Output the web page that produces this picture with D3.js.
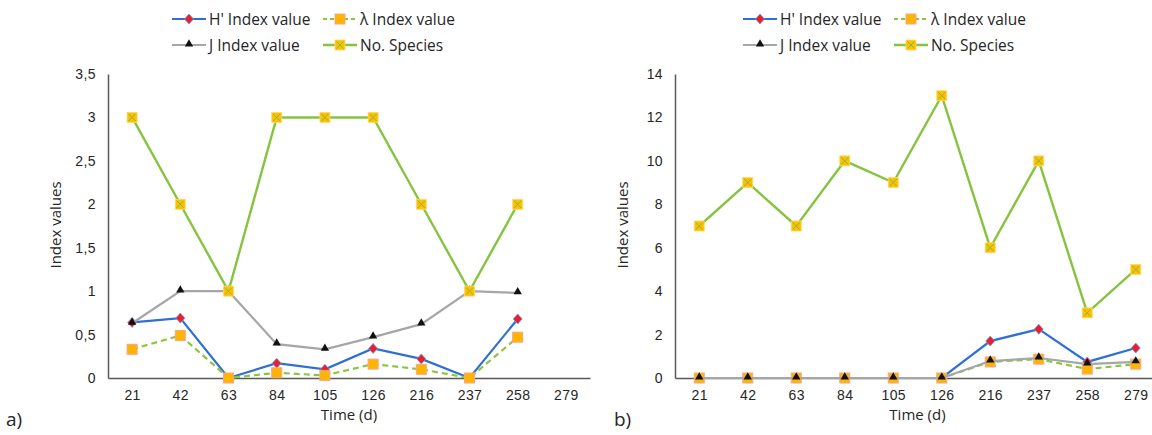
<!DOCTYPE html>
<html>
<head>
<meta charset="utf-8">
<script src="https://cdn.jsdelivr.net/npm/d3@7"></script>
<style>
  body { margin: 0; background: #fff; }
  svg { display: block; font-family: "Open Sans", sans-serif; }
  .tick text { font-size: 14px; fill: #262626; letter-spacing: 0.4px; }
  .domain { stroke: #595959; stroke-width: 1.5px; }
</style>
</head>
<body>
<svg id="chart" width="1152" height="435"></svg>
<script>
// Time points (days)
var daysA = ["21", "42", "63", "84", "105", "126", "216", "237", "258", "279"];
var daysB = ["21", "42", "63", "84", "105", "126", "216", "237", "258", "279"];

// panel a) - nothing recorded at 279
var hA = [0.64, 0.69, 0, 0.17, 0.10, 0.34, 0.22, 0, 0.68, null];
var lambdaA = [0.33, 0.49, 0, 0.06, 0.03, 0.16, 0.10, 0, 0.47, null];
var jA = [0.63, 1.0, 1.0, 0.39, 0.33, 0.47, 0.62, 1.0, 0.98, null];
var speciesA = [3, 2, 1, 3, 3, 3, 2, 1, 2, null];
var yTicksA = [0, 0.5, 1, 1.5, 2, 2.5, 3, 3.5];

// panel b)
var hB = [0, 0, 0, 0, 0, 0, 1.70, 2.25, 0.74, 1.38];
var lambdaB = [0, 0, 0, 0, 0, 0, 0.74, 0.87, 0.41, 0.64];
var jB = [0, 0, 0, 0, 0, 0, 0.78, 0.92, 0.64, 0.74];
var speciesB = [7, 9, 7, 10, 9, 13, 6, 10, 3, 5];
var yTicksB = [0, 2, 4, 6, 8, 10, 12, 14];

var seriesNames = ["H' Index value", "λ Index value", "J Index value", "No. Species"];

var svg = d3.select("#chart");
var fmt = function (v) { return String(v).replace(".", ","); };

function marker(g, kind, x, y) {
  if (kind === 0) {
    g.append("path").attr("d", "M" + x + "," + (y - 5) + "L" + (x + 4.5) + "," + y +
      "L" + x + "," + (y + 5) + "L" + (x - 4.5) + "," + y + "Z")
      .attr("fill", "#e8202a").attr("stroke", "#6d9be6").attr("stroke-width", 0.8);
  } else if (kind === 1) {
    g.append("rect").attr("x", x - 5).attr("y", y - 5).attr("width", 10).attr("height", 10)
      .attr("fill", "#ffb400").attr("stroke", "#f7a58a").attr("stroke-width", 1);
  } else if (kind === 2) {
    g.append("path").attr("d", d3.symbol(d3.symbolTriangle, 30)())
      .attr("transform", "translate(" + x + "," + (y - 1) + ")")
      .attr("fill", "#111");
  } else {
    g.append("rect").attr("x", x - 5).attr("y", y - 5).attr("width", 10).attr("height", 10)
      .attr("fill", "#ffc000").attr("stroke", "#ffd966").attr("stroke-width", 0.8);
    g.append("path").attr("d", "M" + (x - 3.5) + "," + (y - 3.5) + "L" + (x + 3.5) + "," + (y + 3.5) +
      "M" + (x + 3.5) + "," + (y - 3.5) + "L" + (x - 3.5) + "," + (y + 3.5))
      .attr("stroke", "#7dbb42").attr("stroke-width", 1);
  }
}

var lineStyles = [
  { color: "#2f6fd3", dash: null, width: 2.2 },
  { color: "#8cc63f", dash: "6,4", width: 2.2 },
  { color: "#a6a6a6", dash: null, width: 2.2 },
  { color: "#86c440", dash: null, width: 2.4 }
];

function panel(opts) {
  var x = d3.scalePoint().domain(opts.days).range([opts.x0, opts.x1]).padding(0.5);
  var y = d3.scaleLinear().domain([0, opts.yMax]).range([378, 74]);
  var g = svg.append("g");

  g.append("g").attr("transform", "translate(" + opts.x0 + ",0)")
    .call(d3.axisLeft(y).tickValues(opts.yTicks).tickSize(0).tickPadding(12).tickFormat(fmt));
  g.append("g").attr("transform", "translate(0,378)")
    .call(d3.axisBottom(x).tickSize(0).tickPadding(12));

  g.append("text").attr("x", (opts.x0 + opts.x1) / 2).attr("y", 420)
    .attr("text-anchor", "middle").attr("font-size", 15).attr("fill", "#262626").text("Time (d)");
  g.append("text").attr("transform", "translate(" + (opts.x0 - 47) + ",225) rotate(-90)")
    .attr("text-anchor", "middle").attr("font-size", 15).attr("fill", "#262626").text("Index values");
  g.append("text").attr("x", opts.labelX).attr("y", 426)
    .attr("font-size", 19).attr("fill", "#262626").text(opts.label);

  opts.series.forEach(function (vals, k) {
    var st = lineStyles[k];
    var line = d3.line()
      .defined(function (d) { return d != null; })
      .x(function (d, i) { return x(opts.days[i]); })
      .y(function (d) { return y(d); });
    g.append("path").datum(vals).attr("d", line)
      .attr("fill", "none").attr("stroke", st.color).attr("stroke-width", st.width)
      .attr("stroke-dasharray", st.dash);
    var mg = g.append("g");
    vals.forEach(function (v, i) {
      if (v != null) marker(mg, k, x(opts.days[i]), y(v));
    });
  });

  // legend
  var lg = g.append("g");
  var cols = [opts.legX, opts.legX + 151];
  var rows = [19, 45];
  seriesNames.forEach(function (name, k) {
    var lx = cols[k % 2], ly = rows[Math.floor(k / 2)];
    var st = lineStyles[k];
    lg.append("line").attr("x1", lx).attr("x2", lx + 34).attr("y1", ly).attr("y2", ly)
      .attr("stroke", st.color).attr("stroke-width", st.width).attr("stroke-dasharray", st.dash ? "4,3" : null);
    marker(lg, k, lx + 17, ly);
    lg.append("text").attr("x", lx + 37).attr("y", ly + 5.5)
      .attr("font-size", 15.5).attr("fill", "#262626").text(name);
  });
}

panel({
  days: daysA, x0: 108, x1: 590, yMax: 3.5, yTicks: yTicksA,
  series: [hA, lambdaA, jA, speciesA], legX: 172, label: "a)", labelX: 6
});
panel({
  days: daysB, x0: 675, x1: 1160, yMax: 14, yTicks: yTicksB,
  series: [hB, lambdaB, jB, speciesB], legX: 743, label: "b)", labelX: 614
});
</script>
</body>
</html>
